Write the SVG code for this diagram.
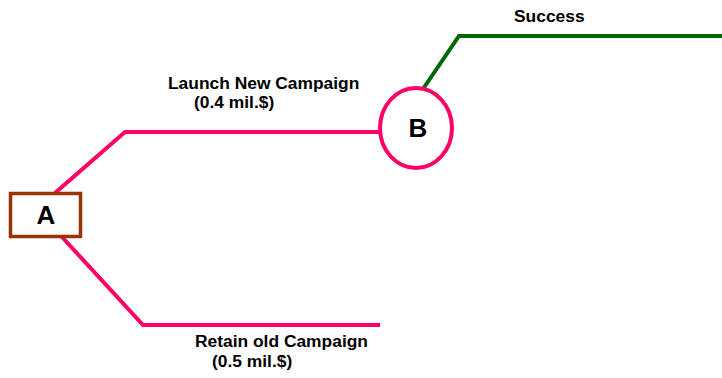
<svg xmlns="http://www.w3.org/2000/svg" width="722" height="378" viewBox="0 0 722 378">
<style>
.lbl{font-family:"Liberation Sans",Arial,sans-serif;font-weight:bold;font-size:17.4px;fill:#000}
.big{font-family:"Liberation Sans",Arial,sans-serif;font-weight:bold;font-size:26px;fill:#000;text-anchor:middle}
.pink{fill:none;stroke:#ff0066;stroke-width:4}
.green{fill:none;stroke:#006600;stroke-width:4}
</style>
<rect width="722" height="378" fill="#fff"/>
<g id="connectors">
<polyline class="pink" points="55,193 125,132 380,132"/>
<polyline class="pink" points="62,237 143,325 380,325"/>
<polyline class="green" points="423,89 459,36 722,36"/>
</g>
<g id="nodeA">
<rect x="10.5" y="193.5" width="70" height="43" fill="#fff" stroke="#993300" stroke-width="3.5"/>
<text class="big" x="46" y="224">A</text>
</g>
<g id="nodeB">
<ellipse cx="416" cy="128" rx="36" ry="40" fill="#fff" stroke="#ff0066" stroke-width="4"/>
<text class="big" x="418" y="137">B</text>
</g>
<g id="labels">
<text class="lbl" x="168" y="89">Launch New Campaign</text>
<text class="lbl" x="194" y="108">(0.4 mil.$)</text>
<text class="lbl" x="195" y="347">Retain old Campaign</text>
<text class="lbl" x="212" y="367">(0.5 mil.$)</text>
<text class="lbl" x="514" y="22">Success</text>
</g>
</svg>
